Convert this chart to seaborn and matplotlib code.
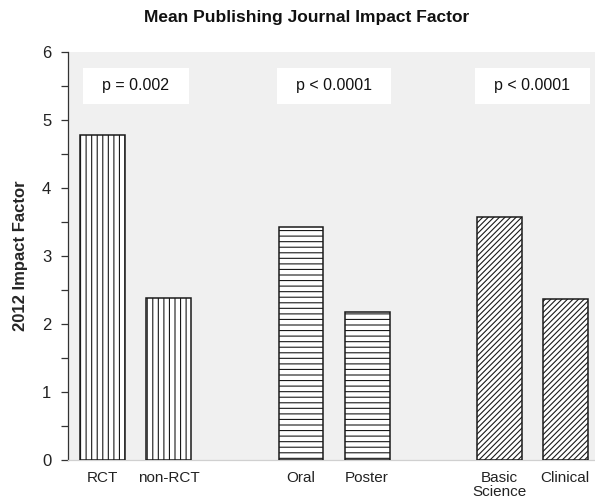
import matplotlib
matplotlib.use("Agg")
import matplotlib.pyplot as plt
import seaborn as sns
import pandas as pd
from matplotlib.ticker import MultipleLocator

categories = ["RCT", "non-RCT", "Oral", "Poster", "Basic\nScience", "Clinical"]
groups = ["Design", "Design", "Presentation", "Presentation", "Research", "Research"]
impact = [4.78, 2.38, 3.42, 2.17, 3.57, 2.37]
p_labels = ["p = 0.002", "p < 0.0001", "p < 0.0001"]
title = "Mean Publishing Journal Impact Factor"
ylabel = "2012 Impact Factor"

sns.set_theme(style="white")
plt.rcParams["font.family"] = ["Liberation Sans", "DejaVu Sans"]
plt.rcParams["hatch.linewidth"] = 0.8

# positions: groups separated by an empty slot
group_order = list(dict.fromkeys(groups))
pos = []
seen = {}
for g in groups:
    gi = group_order.index(g)
    k = seen.get(g, 0)
    seen[g] = k + 1
    pos.append(gi * 3 + k)

df = pd.DataFrame({"pos": pos, "cat": categories, "val": impact, "grp": groups})

fig = plt.figure(figsize=(5.95, 4.99), dpi=100)
ax = fig.add_axes([0.114, 0.078, 0.886, 0.818])
ax.set_facecolor("#f0f0f0")

sns.barplot(data=df, x="pos", y="val", native_scale=True, width=0.68,
            color="white", edgecolor="#1a1a1a", linewidth=1.1,
            errorbar=None, ax=ax, zorder=3)

hatches = {"Design": "|||", "Presentation": "---", "Research": "//////"}
for patch, g in zip(ax.patches, groups):
    patch.set_hatch(hatches[g])
    patch.set_facecolor("white")
    patch.set_edgecolor("#1a1a1a")

ax.set_xlim(-0.53, 7.45)
ax.set_ylim(0, 6)
ax.set_xticks(pos)
ax.set_xticklabels(categories, fontsize=11, color="#222222", linespacing=0.95)
ax.tick_params(axis="x", length=0, pad=8)
ax.yaxis.set_major_locator(MultipleLocator(1))
ax.yaxis.set_minor_locator(MultipleLocator(0.5))
ax.tick_params(axis="y", which="both", direction="out", left=True, length=5,
               width=0.9, color="#333333", labelsize=12, labelcolor="#222222", pad=7)
ax.set_xlabel("")
ax.set_ylabel(ylabel, fontsize=12, fontweight="bold", labelpad=10)

for s in ["top", "right"]:
    ax.spines[s].set_visible(False)
ax.spines["left"].set_color("#333333")
ax.spines["left"].set_linewidth(0.9)
ax.spines["bottom"].set_color("#d0d0d0")
ax.spines["bottom"].set_linewidth(0.9)

for gi, txt in enumerate(p_labels):
    ax.text(gi * 3 + 0.5, 5.5, "  " + txt + "  ", ha="center", va="center",
            fontsize=11.5, color="#111111", zorder=4,
            bbox=dict(boxstyle="square,pad=0.65", facecolor="white", edgecolor="none"))

fig.text(0.516, 0.965, title, ha="center", va="center", fontsize=12.5,
         fontweight="bold", color="#111111")

fig.savefig("out.png", dpi=100)
